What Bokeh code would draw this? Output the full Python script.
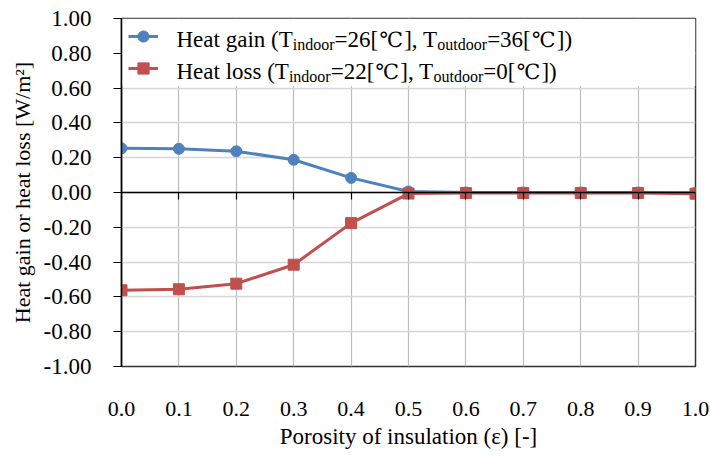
from bokeh.plotting import figure
from bokeh.models import (Range1d, LinearAxis, Label, Legend, LegendItem, BoxAnnotation,
                          NumeralTickFormatter, FixedTicker)
from bokeh.embed import file_html
from bokeh.resources import INLINE

# ---- data ----
porosity = [0.0, 0.1, 0.2, 0.3, 0.4, 0.5, 0.6, 0.7, 0.8, 0.9, 1.0]
heat_gain = [0.254, 0.251, 0.237, 0.188, 0.084, 0.006, 0.0, 0.0, 0.0, 0.0, -0.002]
heat_loss = [-0.562, -0.556, -0.524, -0.415, -0.176, -0.006, -0.003, -0.003, -0.003, -0.003, -0.007]
x_ticks = [0.0, 0.1, 0.2, 0.3, 0.4, 0.5, 0.6, 0.7, 0.8, 0.9, 1.0]
y_ticks = [-1.0, -0.8, -0.6, -0.4, -0.2, 0.0, 0.2, 0.4, 0.6, 0.8, 1.0]
legend_rows = [
    [("Heat gain (T", "main"), ("indoor", "sub"), ("=26[", "main"), ("\u2103", "deg"),
     ("], T", "main"), ("outdoor", "sub"), ("=36[", "main"), ("\u2103", "deg"), ("])", "main")],
    [("Heat loss (T", "main"), ("indoor", "sub"), ("=22[", "main"), ("\u2103", "deg"),
     ("], T", "main"), ("outdoor", "sub"), ("=0[", "main"), ("\u2103", "deg"), ("])", "main")],
]

BLUE = "#4F81BD"
RED = "#C0504D"
SERIF = "Liberation Serif"
FRAME_W = 574.0
FRAME_H = 348.0

p = figure(width=710, height=456, output_backend="svg", toolbar_location=None,
           x_range=Range1d(0, 1), y_range=Range1d(-1, 1),
           min_border_left=121, min_border_right=15, min_border_top=18, min_border_bottom=90,
           x_axis_label="Porosity of insulation (\u03b5) [-]",
           y_axis_label="Heat gain or heat loss [W/m\u00b2]")
p.background_fill_color = "white"
p.border_fill_color = "white"
p.outline_line_color = "#333333"
p.outline_line_width = 1.5

# grids
p.xgrid.ticker = FixedTicker(ticks=x_ticks)
p.ygrid.ticker = FixedTicker(ticks=y_ticks)
p.xgrid.grid_line_color = "#bdbdbd"
p.xgrid.grid_line_width = 1.2
p.ygrid.grid_line_color = "#d6d6d6"
p.ygrid.grid_line_width = 1.5

# white area behind the legend (hides the grid there)
p.add_layout(BoxAnnotation(top=1.0, bottom=0.612, fill_color="white", fill_alpha=1.0,
                           line_color=None, level="underlay"))

# bottom axis: labels only
xa = p.xaxis[0]
xa.ticker = FixedTicker(ticks=x_ticks)
xa.formatter = NumeralTickFormatter(format="0.0")
xa.axis_line_color = None
xa.major_tick_line_color = None
xa.minor_tick_line_color = None
xa.major_label_text_font = SERIF
xa.major_label_text_font_size = "22px"
xa.major_label_text_color = "black"
xa.major_label_standoff = 29
xa.axis_label_text_font = SERIF
xa.axis_label_text_font_size = "23px"
xa.axis_label_text_font_style = "normal"
xa.axis_label_text_color = "black"
xa.axis_label_standoff = 5

# left axis
ya = p.yaxis[0]
ya.ticker = FixedTicker(ticks=y_ticks)
ya.formatter = NumeralTickFormatter(format="0.00")
ya.axis_line_color = "black"
ya.axis_line_width = 1.5
ya.major_tick_line_color = "black"
ya.major_tick_line_width = 1.2
ya.major_tick_out = 8
ya.major_tick_in = 0
ya.minor_tick_line_color = None
ya.major_label_text_font = SERIF
ya.major_label_text_font_size = "23px"
ya.major_label_text_color = "black"
ya.major_label_standoff = 22
ya.axis_label_text_font = SERIF
ya.axis_label_text_font_size = "22px"
ya.axis_label_text_font_style = "normal"
ya.axis_label_text_color = "black"
ya.axis_label_standoff = 6

# zero axis with downward ticks
za = LinearAxis(fixed_location=0, ticker=FixedTicker(ticks=x_ticks))
za.axis_line_color = "black"
za.axis_line_width = 1.5
za.major_tick_line_color = "black"
za.major_tick_line_width = 1.2
za.major_tick_in = 7
za.major_tick_out = 0
za.minor_tick_line_color = None
za.major_label_text_font_size = "0px"
za.major_label_text_color = None
za.major_label_standoff = 0
p.add_layout(za, "above")

# data
r1 = p.line(porosity, heat_gain, line_color=BLUE, line_width=3)
s1 = p.scatter(porosity, heat_gain, marker="circle", size=11, fill_color=BLUE, line_color=BLUE)
r2 = p.line(porosity, heat_loss, line_color=RED, line_width=3)
s2 = p.scatter(porosity, heat_loss, marker="square", size=11, fill_color=RED, line_color=RED)

LEG_H = 28 * 2 + 4
legend = Legend(items=[LegendItem(label=" ", renderers=[r1, s1]),
                       LegendItem(label=" ", renderers=[r2, s2])],
                location=(7, FRAME_H - 4 - LEG_H), margin=0, padding=0, spacing=4,
                glyph_width=30, glyph_height=28, label_height=28, label_width=20,
                label_standoff=5, border_line_color=None,
                background_fill_alpha=0.0,
                label_text_font_size="1px")
p.add_layout(legend, "center")

# legend texts with subscripts
W = {'H': .722, 'e': .444, 'a': .444, 't': .278, ' ': .25, 'g': .5, 'i': .278, 'n': .5,
     '(': .333, ')': .333, 'T': .611, '=': .564, '[': .333, ']': .333, ',': .25, 'l': .278,
     'o': .5, 's': .389, 'd': .5, 'r': .333, 'u': .5}
for ch in "0123456789":
    W[ch] = .5
MAIN, SUB, DEGF, DEGW = 23, 16, 21, 26


def seg_width(text, kind):
    if kind == "deg":
        return DEGW
    size = MAIN if kind == "main" else SUB
    return sum(W[c] for c in text) * size


for row, (base_px, seg_list) in enumerate(zip([39 - 18, 71 - 18], legend_rows)):
    xpx = 176 - 121
    for text, kind in seg_list:
        w = seg_width(text, kind)
        if kind == "deg":
            lab = Label(x=(xpx + w / 2) / FRAME_W, y=1 - 2 * base_px / FRAME_H, text=text,
                        text_font="DejaVu Serif", text_font_size=f"{DEGF}px",
                        text_align="center", text_baseline="alphabetic", text_color="black",
                        level="overlay")
        else:
            dy = 0 if kind == "main" else 5
            lab = Label(x=xpx / FRAME_W, y=1 - 2 * (base_px + dy) / FRAME_H, text=text,
                        text_font=SERIF,
                        text_font_size=f"{MAIN if kind == 'main' else SUB}px",
                        text_align="left", text_baseline="alphabetic", text_color="black",
                        level="overlay")
        p.add_layout(lab)
        xpx += w

open("out.html", "w").write(file_html(p, INLINE))
